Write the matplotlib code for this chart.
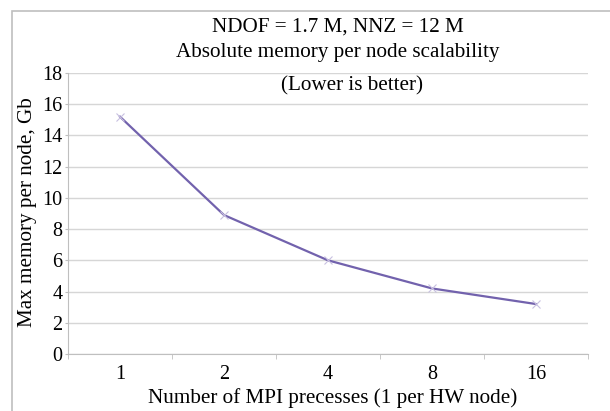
import matplotlib.pyplot as plt
from matplotlib.patches import Rectangle
import numpy as np

# Daten
processes = ['1', '2', '4', '8', '16']
memory_gb = [15.2, 8.9, 6.0, 4.2, 3.2]
yticks = [0, 2, 4, 6, 8, 10, 12, 14, 16, 18]

plt.rcParams['font.family'] = ['Liberation Serif', 'DejaVu Serif']

W, H = 610, 411
fig = plt.figure(figsize=(W / 100, H / 100), dpi=100)
ax = fig.add_axes([68 / W, 1 - 354 / H, (588 - 68) / W, (354 - 73) / H])

# Rahmen des Diagramms
fig.patches.append(Rectangle((12 / W, -0.1), 1.2, 1 - 11 / H + 0.1, transform=fig.transFigure,
                             fill=False, edgecolor='#bfbfbf', linewidth=1.2))

x = np.arange(len(processes))
ax.plot(x, memory_gb, color='#7262ad', linewidth=1.6, marker='x', markersize=6,
        markeredgecolor='#c8c0e0', markeredgewidth=0.8)

ax.set_xlim(-0.5, len(processes) - 0.5)
ax.set_ylim(0, 18)
ax.set_yticks(yticks)
ax.set_xticks(x)
ax.set_xticklabels(processes)
ax.set_xticks(np.arange(-0.5, len(processes), 1), minor=True)
ax.tick_params(axis='x', which='major', length=0, labelsize=14.5, pad=8)
ax.tick_params(axis='x', which='minor', length=3.5, color='#bfbfbf', direction='out')
ax.tick_params(axis='y', length=2, color='#bfbfbf', labelsize=14.5, pad=2)

ax.grid(axis='y', color='#d6d6d6', linewidth=1)
ax.set_axisbelow(True)
for side in ['top', 'right']:
    ax.spines[side].set_visible(False)
for side in ['left', 'bottom']:
    ax.spines[side].set_color('#bfbfbf')

fig.text(338 / W, 1 - 27 / H, 'NDOF = 1.7 M, NNZ = 12 M', ha='center', va='center', fontsize=15.2)
fig.text(338 / W, 1 - 53 / H, 'Absolute memory per node scalability', ha='center', va='center', fontsize=15.2)
fig.text(352 / W, 1 - 86 / H, '(Lower is better)', ha='center', va='center', fontsize=15.2)

fig.text(333 / W, 1 - 398 / H, 'Number of MPI precesses (1 per HW node)', ha='center', va='center', fontsize=15.2)
fig.text(28 / W, 1 - 212 / H, 'Max memory per node, Gb', ha='center', va='center', rotation=90, fontsize=15.2)

fig.savefig('out.png', dpi=100)
